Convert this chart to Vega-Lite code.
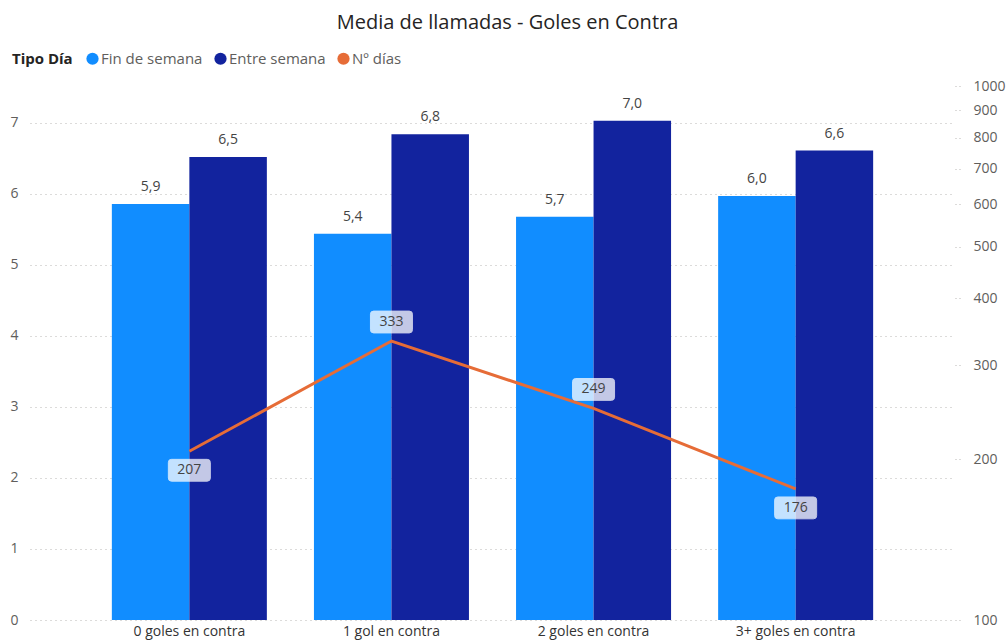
{
  "$schema": "https://vega.github.io/schema/vega-lite/v6.json",
  "width": 925,
  "height": 534,
  "autosize": "none",
  "padding": {"left": 30, "top": 86, "right": 52, "bottom": 24},
  "background": "white",
  "title": {
    "text": "Media de llamadas - Goles en Contra",
    "font": "Open Sans",
    "fontSize": 20,
    "fontWeight": "normal",
    "color": "#252423",
    "anchor": "middle",
    "frame": "group",
    "dx": 15,
    "offset": 18
  },
  "datasets": {
    "bars": [
      {"cat": "0 goles en contra", "tipo": "Fin de semana", "media": 5.86},
      {"cat": "0 goles en contra", "tipo": "Entre semana", "media": 6.52},
      {"cat": "1 gol en contra", "tipo": "Fin de semana", "media": 5.44},
      {"cat": "1 gol en contra", "tipo": "Entre semana", "media": 6.84},
      {"cat": "2 goles en contra", "tipo": "Fin de semana", "media": 5.68},
      {"cat": "2 goles en contra", "tipo": "Entre semana", "media": 7.03},
      {"cat": "3+ goles en contra", "tipo": "Fin de semana", "media": 5.97},
      {"cat": "3+ goles en contra", "tipo": "Entre semana", "media": 6.61}
    ],
    "dias": [
      {"cat": "0 goles en contra", "dias": 207},
      {"cat": "1 gol en contra", "dias": 333},
      {"cat": "2 goles en contra", "dias": 249},
      {"cat": "3+ goles en contra", "dias": 176}
    ]
  },
  "encoding": {
    "x": {
      "field": "cat",
      "type": "nominal",
      "sort": null,
      "scale": {"paddingInner": 0.233, "paddingOuter": 0.405},
      "axis": {
        "title": null,
        "labelAngle": 0,
        "ticks": false,
        "domain": false,
        "labelFont": "Open Sans",
        "labelFontSize": 14,
        "labelColor": "#333333",
        "labelPadding": 4
      }
    }
  },
  "layer": [
    {
      "data": {"name": "bars"},
      "encoding": {
        "y": {
          "field": "media",
          "type": "quantitative",
          "scale": {"domain": [0, 7.52], "nice": false, "zero": true},
          "axis": {
            "title": null,
            "values": [0, 1, 2, 3, 4, 5, 6, 7],
            "grid": true,
            "gridDash": [1, 4],
            "gridColor": "#B8B6B4",
            "domain": false,
            "ticks": false,
            "labelFont": "Open Sans",
            "labelFontSize": 14,
            "labelColor": "#605E5C",
            "labelPadding": 12
          }
        },
        "xOffset": {"field": "tipo", "type": "nominal", "sort": ["Fin de semana", "Entre semana"], "scale": {"paddingInner": 0}}
      },
      "layer": [
        {
          "mark": {"type": "bar"},
          "encoding": {
            "color": {
              "field": "tipo",
              "type": "nominal",
              "scale": {
                "domain": ["Fin de semana", "Entre semana", "Nº días"],
                "range": ["#118DFF", "#12239E", "#E66C37"]
              },
              "legend": {
                "title": "Tipo Día",
                "orient": "none",
                "legendX": -18,
                "legendY": -35,
                "direction": "horizontal",
                "titleOrient": "left",
                "titleFont": "Open Sans",
                "titleFontSize": 15,
                "titleFontWeight": "bold",
                "titleColor": "#252423",
                "titlePadding": 12,
                "labelFont": "Open Sans",
                "labelFontSize": 15,
                "labelColor": "#605E5C",
                "labelOffset": 1,
                "symbolType": "circle",
                "symbolSize": 150,
                "symbolStrokeWidth": 0,
                "columnPadding": 10
              }
            }
          }
        },
        {
          "mark": {"type": "text", "baseline": "alphabetic", "dy": -13, "font": "Open Sans", "fontSize": 14, "color": "#444444"},
          "encoding": {
            "text": {"field": "media", "type": "quantitative", "format": ".1f"}
          }
        }
      ]
    },
    {
      "data": {"name": "dias"},
      "encoding": {
        "y": {
          "field": "dias",
          "type": "quantitative",
          "scale": {"type": "log", "domain": [100, 1000], "nice": false},
          "axis": {
            "title": null,
            "orient": "right",
            "values": [100, 200, 300, 400, 500, 600, 700, 800, 900, 1000],
            "format": "d",
            "grid": false,
            "domain": false,
            "ticks": true,
            "tickSize": 6,
            "tickDash": [1, 3],
            "tickColor": "#B8B6B4",
            "labelFont": "Open Sans",
            "labelFontSize": 14,
            "labelColor": "#605E5C",
            "labelPadding": 12
          }
        }
      },
      "layer": [
        {
          "mark": {"type": "line", "stroke": "#E66C37", "strokeWidth": 3}
        },
        {
          "transform": [{"filter": {"field": "cat", "oneOf": ["0 goles en contra", "3+ goles en contra"]}}],
          "layer": [
            {
              "mark": {"type": "point", "filled": true, "fill": "white", "opacity": 0.75, "stroke": "white", "strokeWidth": 1, "yOffset": 19, "size": 1764,
                "shape": "M -0.85 -0.52 L 0.85 -0.52 Q 1 -0.52 1 -0.37 L 1 0.37 Q 1 0.52 0.85 0.52 L -0.85 0.52 Q -1 0.52 -1 0.37 L -1 -0.37 Q -1 -0.52 -0.85 -0.52 Z"}
            },
            {
              "mark": {"type": "text", "yOffset": 19, "font": "Open Sans", "fontSize": 14, "color": "#444444"},
              "encoding": {"text": {"field": "dias", "type": "quantitative"}}
            }
          ]
        },
        {
          "transform": [{"filter": {"field": "cat", "oneOf": ["1 gol en contra", "2 goles en contra"]}}],
          "layer": [
            {
              "mark": {"type": "point", "filled": true, "fill": "white", "opacity": 0.75, "stroke": "white", "strokeWidth": 1, "yOffset": -19, "size": 1764,
                "shape": "M -0.85 -0.52 L 0.85 -0.52 Q 1 -0.52 1 -0.37 L 1 0.37 Q 1 0.52 0.85 0.52 L -0.85 0.52 Q -1 0.52 -1 0.37 L -1 -0.37 Q -1 -0.52 -0.85 -0.52 Z"}
            },
            {
              "mark": {"type": "text", "yOffset": -19, "font": "Open Sans", "fontSize": 14, "color": "#444444"},
              "encoding": {"text": {"field": "dias", "type": "quantitative"}}
            }
          ]
        }
      ]
    }
  ],
  "resolve": {"scale": {"y": "independent"}},
  "config": {
    "view": {"stroke": null},
    "locale": {
      "number": {"decimal": ",", "thousands": ".", "grouping": [3], "currency": ["", " €"]}
    }
  }
}
